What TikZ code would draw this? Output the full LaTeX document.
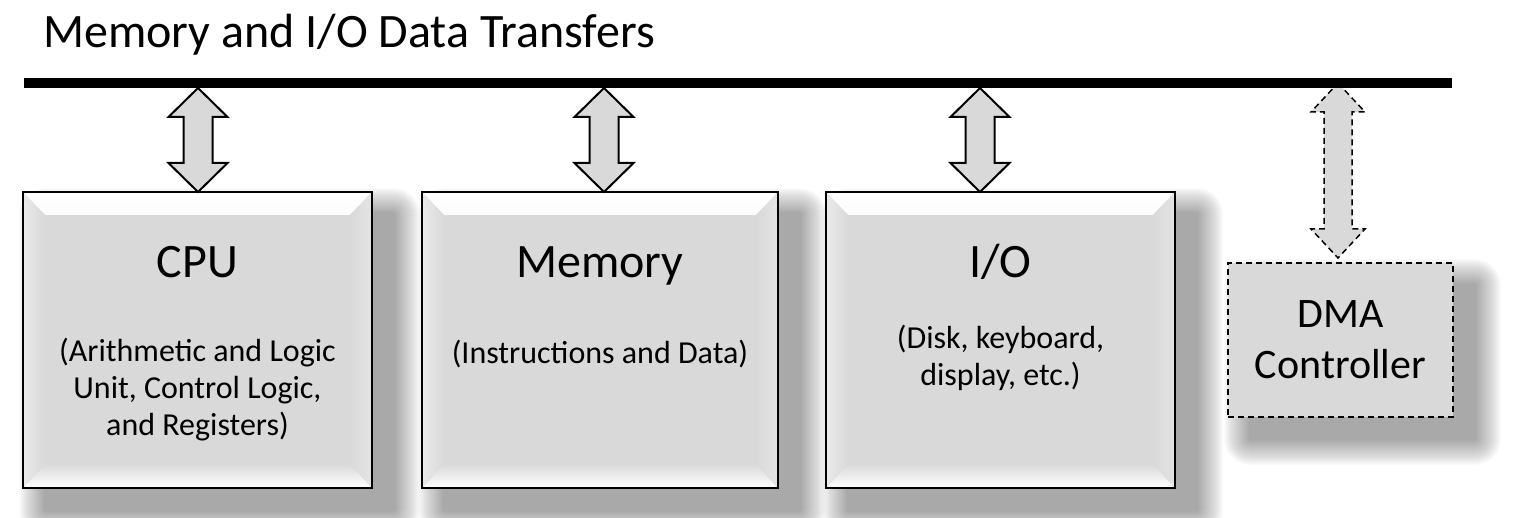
\documentclass[tikz,border=0pt]{standalone}
\usepackage{fontspec}
\setmainfont{Carlito}
\usetikzlibrary{backgrounds,calc}
\definecolor{boxgray}{HTML}{D9D9D9}
\newcommand\fBig{\fontsize{48}{57}\selectfont}
\newcommand\fSub{\fontsize{32}{37}\selectfont}
\newcommand\fDma{\fontsize{42}{51}\selectfont}
\newcommand\softshadow[1]{%
  \foreach \k in {0,...,25}{%
    \fill[black, fill opacity=0.014, rounded corners={(26-\k)*1pt}]
      ([shift={({-4+\k},{-4+\k})}]#1.north west) rectangle
      ([shift={({48-\k},{48-\k})}]#1.south east);
  }}
% double-headed block arrow: style, centre x, top y, bottom y, head half width, shaft half width
\newcommand\blockarrow[6]{%
  \draw[#1] (#2,#3) -- (#2+#5,#3+29) -- (#2+#6,#3+29) -- (#2+#6,#4-29)
    -- (#2+#5,#4-29) -- (#2,#4) -- (#2-#5,#4-29) -- (#2-#6,#4-29)
    -- (#2-#6,#3+29) -- (#2-#5,#3+29) -- cycle;}
\tikzset{
  unitbox/.style={draw=black, line width=2pt, fill=boxgray, inner sep=0pt,
    outer sep=0pt, minimum height=296pt,
    path picture={
      \shade[top color=white, bottom color=boxgray]
        (path picture bounding box.north west) -- (path picture bounding box.north east)
        -- ([shift={(-22pt,-23pt)}]path picture bounding box.north east)
        -- ([shift={(22pt,-23pt)}]path picture bounding box.north west) -- cycle;
      \shade[top color=boxgray, bottom color=white]
        (path picture bounding box.south west) -- (path picture bounding box.south east)
        -- ([shift={(-22pt,24pt)}]path picture bounding box.south east)
        -- ([shift={(22pt,24pt)}]path picture bounding box.south west) -- cycle;
      \shade[left color=boxgray!55!white, right color=boxgray]
        (path picture bounding box.north west)
        -- ([shift={(22pt,-23pt)}]path picture bounding box.north west)
        -- ([shift={(22pt,24pt)}]path picture bounding box.south west)
        -- (path picture bounding box.south west) -- cycle;
      \shade[left color=boxgray, right color=boxgray!70!white]
        (path picture bounding box.north east)
        -- ([shift={(-22pt,-23pt)}]path picture bounding box.north east)
        -- ([shift={(-22pt,24pt)}]path picture bounding box.south east)
        -- (path picture bounding box.south east) -- cycle;
    }},
  dmabox/.style={draw=black, line width=1.5pt, dash pattern=on 6pt off 4pt,
    fill=boxgray, inner sep=0pt, outer sep=0pt, minimum width=225pt, minimum height=154pt},
  solidarrow/.style={draw=black, line width=2pt, fill=boxgray, line join=miter},
  dasharrow/.style={draw=black, line width=1.5pt, dash pattern=on 6pt off 4pt, fill=boxgray},
  bigtext/.style={anchor=base, inner sep=0pt, font=\fBig},
  subtext/.style={anchor=base, inner sep=0pt, align=center, font=\fSub},
}
\begin{document}
\begin{tikzpicture}[x=1pt, y=-1pt]
\useasboundingbox (0,0) rectangle (1522,518);

% title
\node[anchor=base west, inner sep=0pt, font=\fBig] (title) at (43,48) {Memory and I/O Data Transfers};

% boxes
\node[unitbox, minimum width=349pt] (cpu) at (197.5,340) {};
\node[unitbox, minimum width=356pt] (mem) at (600,340) {};
\node[unitbox, minimum width=349pt] (io) at (1000.5,340) {};
\node[dmabox] (dma) at (1340.5,340) {};

\begin{scope}[on background layer]
  \softshadow{cpu}
  \softshadow{mem}
  \softshadow{io}
  \softshadow{dma}
\end{scope}

% block arrows between bus and units
\blockarrow{solidarrow}{198}{88}{192}{29.5}{14.5}
\blockarrow{solidarrow}{604}{88}{192}{29.5}{14.5}
\blockarrow{solidarrow}{980}{88}{192}{29.5}{14.5}
\blockarrow{dasharrow}{1338}{83}{258}{27}{14}

% bus
\coordinate (busL) at (24,83);
\coordinate (busR) at (1452,83);
\draw[line width=10pt] (busL) -- (busR);

% labels (base anchor of a multi-line node = baseline of its last line)
\node[bigtext] (cpu-t) at (197.5,278) {CPU};
\node[subtext] (cpu-s) at (197.5,435) {(Arithmetic and Logic\\Unit, Control Logic,\\and Registers)};
\node[bigtext] (mem-t) at (600,278) {Memory};
\node[subtext] (mem-s) at (600,363) {(Instructions and Data)};
\node[bigtext] (io-t) at (1000.5,278) {I/O};
\node[subtext] (io-s) at (1000.5,385) {(Disk, keyboard,\\display, etc.)};
\node[anchor=base, inner sep=0pt, align=center, font=\fDma] (dma-t) at (1340.5,378) {DMA\\Controller};
\end{tikzpicture}
\end{document}
